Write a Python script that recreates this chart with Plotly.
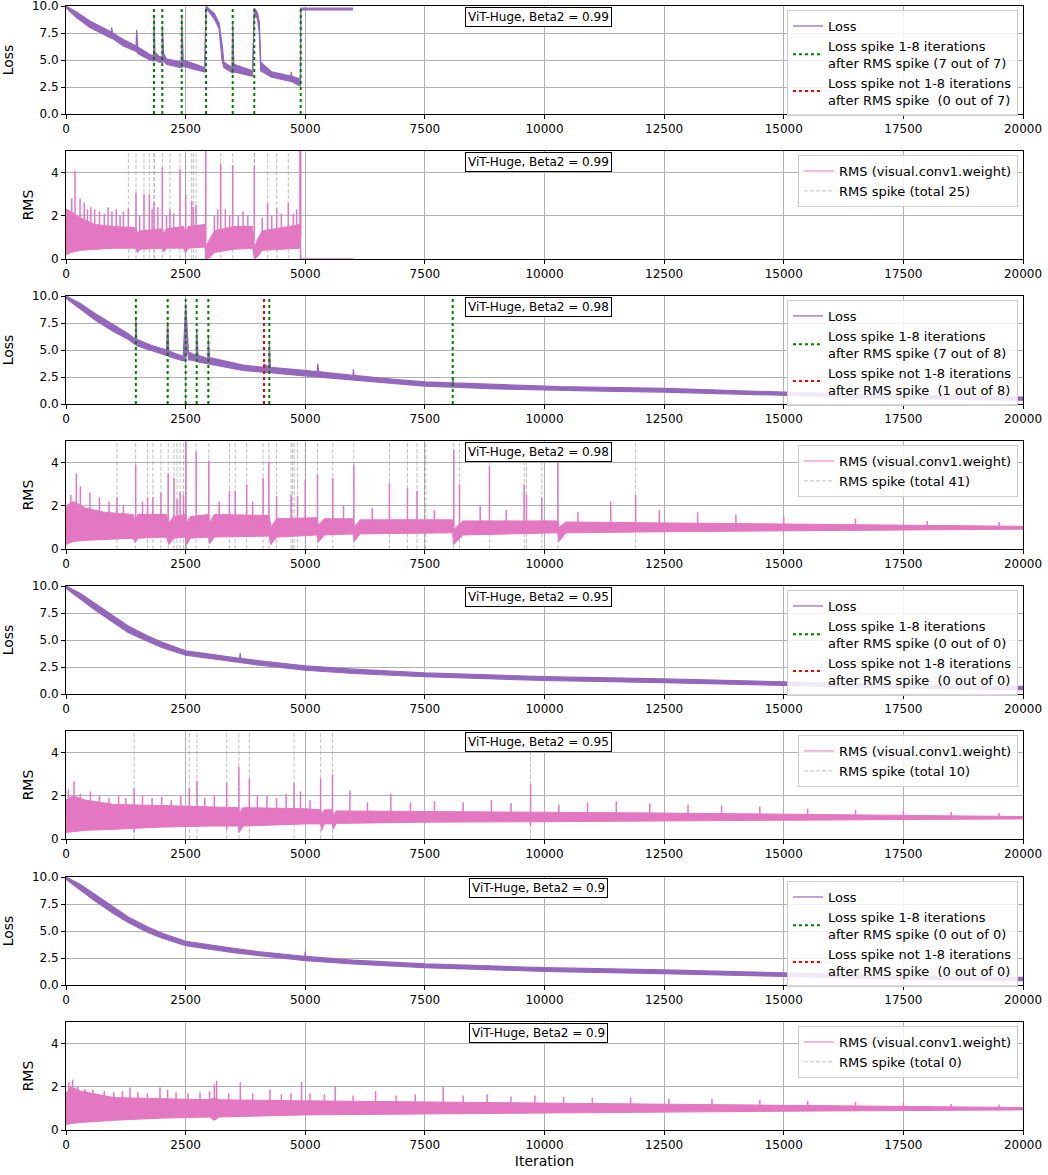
import plotly.graph_objects as go

W, H = 1048, 1175
PURPLE = "#9467bd"
PINK = "#e377c2"
FONT = "DejaVu Sans"

# ---------------- data ----------------
X_TICKS = [0, 2500, 5000, 7500, 10000, 12500, 15000, 17500, 20000]
LOSS_TICKS = [0.0, 2.5, 5.0, 7.5, 10.0]
RMS_TICKS = [0, 2, 4]
BETAS = ["0.99", "0.98", "0.95", "0.9"]

# Loss (iteration, low edge, high edge of the noisy curve)
LOSS99_X = [0, 200, 500, 800, 945, 955, 975, 1200, 1465, 1477, 1500, 1750, 1832, 1839, 1860, 1950,
            2006, 2013, 2040, 2100, 2400, 2412, 2418, 2450, 2900, 2926, 3100, 3200, 3260, 3300, 3470,
            3484, 3510, 3900, 3935, 4000, 4040, 4070, 4300, 4600, 4700, 4710, 4720, 4850, 4900, 4905, 6000]
LOSS99_LO = [9.85, 9.0, 8.0, 7.3, 7.0, 7.0, 7.0, 6.3, 5.8, 5.8, 5.6, 5.0, 4.9, 4.9, 5.0, 4.8,
             4.8, 4.8, 4.9, 4.6, 4.3, 4.3, 4.3, 4.4, 3.9, 9.8, 8.8, 7.9, 5.0, 4.3, 3.8,
             3.8, 3.9, 3.5, 9.3, 8.8, 7.5, 4.0, 3.4, 3.1, 3.0, 3.0, 3.0, 2.7, 2.6, 9.65, 9.65]
LOSS99_HI = [10.0, 9.5, 8.6, 7.9, 7.6, 8.0, 7.5, 6.9, 6.3, 7.8, 6.2, 5.5, 5.4, 8.9, 5.7, 5.3,
             5.3, 8.2, 5.6, 5.1, 4.8, 4.8, 9.2, 5.0, 4.3, 10.0, 9.3, 8.4, 6.5, 4.8, 4.3,
             8.4, 4.6, 4.0, 9.8, 9.4, 8.5, 4.8, 3.9, 3.6, 3.5, 3.9, 3.5, 3.3, 3.2, 9.8, 9.8]

LOSS98_X = [0, 300, 600, 1000, 1300, 1450, 1460, 1480, 1800, 2100, 2125, 2150, 2450, 2501, 2530, 2560,
            2720, 2731, 2760, 2965, 2975, 3000, 3700, 4130, 4138, 4240, 4249, 4270, 4750, 5000, 5250,
            5260, 5280, 5450, 6000, 6005, 6020, 6800, 7500, 8075, 8082, 8100, 9000, 10300, 11200,
            12500, 15000, 17500, 20000]
LOSS98_LO = [9.8, 8.8, 7.8, 6.7, 6.0, 5.5, 5.5, 5.4, 4.9, 4.5, 4.5, 4.4, 4.0, 4.1, 5.5, 4.1,
             4.0, 4.0, 3.9, 3.7, 3.7, 3.7, 3.1, 2.9, 2.9, 2.9, 2.9, 2.9, 2.7, 2.6, 2.5,
             2.5, 2.5, 2.45, 2.2, 2.2, 2.2, 1.9, 1.65, 1.55, 1.55, 1.55, 1.4, 1.25, 1.2,
             1.1, 0.8, 0.5, 0.35]
LOSS98_HI = [10.0, 9.3, 8.4, 7.3, 6.5, 6.0, 7.9, 6.0, 5.4, 5.0, 7.6, 4.9, 4.4, 9.3, 7.5, 4.8,
             4.5, 6.9, 4.5, 4.2, 6.1, 4.3, 3.6, 3.4, 3.7, 3.4, 5.8, 3.4, 3.2, 3.1, 3.0,
             3.75, 3.0, 2.9, 2.65, 3.2, 2.65, 2.3, 2.05, 1.95, 2.5, 1.95, 1.8, 1.6, 1.55,
             1.45, 1.1, 0.8, 0.65]

LOSS95_X = [0, 300, 600, 1000, 1300, 1700, 2000, 2500, 3000, 3500, 3630, 3640, 3650, 4000, 5000,
            6000, 7500, 9000, 10000, 12500, 15000, 17500, 20000]
LOSS95_LO = [9.8, 8.8, 7.8, 6.6, 5.7, 4.9, 4.3, 3.6, 3.3, 2.95, 2.9, 2.9, 2.9, 2.7, 2.2,
             1.9, 1.6, 1.4, 1.25, 1.05, 0.8, 0.55, 0.4]
LOSS95_HI = [10.0, 9.3, 8.4, 7.2, 6.3, 5.4, 4.8, 4.0, 3.7, 3.35, 3.3, 3.8, 3.3, 3.1, 2.6,
             2.3, 1.95, 1.75, 1.6, 1.4, 1.1, 0.85, 0.7]

LOSS90_X = [0, 300, 600, 1000, 1300, 1700, 2000, 2500, 3000, 3500, 4000, 4990, 5000, 5010, 6000,
            7500, 9000, 10000, 12500, 15000, 17500, 20000]
LOSS90_LO = [9.8, 8.8, 7.8, 6.6, 5.8, 4.9, 4.35, 3.65, 3.3, 3.0, 2.75, 2.25, 2.25, 2.25, 1.95,
             1.6, 1.4, 1.25, 1.05, 0.8, 0.55, 0.4]
LOSS90_HI = [10.0, 9.3, 8.4, 7.2, 6.3, 5.4, 4.8, 4.05, 3.7, 3.4, 3.1, 2.65, 3.1, 2.65, 2.3,
             1.95, 1.75, 1.6, 1.4, 1.1, 0.85, 0.7]

# Loss-spike markers (iterations)
GREEN99 = [1839, 2013, 2418, 2926, 3484, 3935, 4905]
RED99 = []
GREEN98 = [1460, 2125, 2501, 2731, 2975, 4249, 8082]
RED98 = [4138]
GREEN95, RED95 = [], []
GREEN90, RED90 = [], []

# RMS band (iteration, low, high)
RMS99_X = [0, 100, 300, 600, 1000, 1450, 1500, 1550, 2000, 2050, 2100, 2450, 2500, 2550, 2900, 2930,
           3000, 3100, 3500, 3900, 3940, 4000, 4100, 4880, 4900, 4905, 6000]
RMS99_LO = [0.2, 0.3, 0.4, 0.45, 0.5, 0.5, 0.3, 0.45, 0.5, 0.35, 0.5, 0.5, 0.3, 0.5, 0.55, 0.0,
            0.05, 0.3, 0.45, 0.5, 0.0, 0.1, 0.4, 0.5, 0.5, 0.0, 0.0]
RMS99_HI = [2.3, 2.2, 1.9, 1.6, 1.5, 1.45, 1.2, 1.3, 1.4, 1.2, 1.4, 1.5, 1.2, 1.5, 1.6, 0.6,
            0.9, 1.3, 1.5, 1.5, 0.5, 0.9, 1.3, 1.6, 1.6, 0.0, 0.0]
RMS99_SPK_X = [120, 188, 293, 380, 450, 520, 600, 700, 800, 880, 960, 1050, 1130, 1200, 1303, 1463,
               1540, 1630, 1742, 1800, 1839, 1920, 2013, 2100, 2173, 2250, 2383, 2501, 2626, 2661,
               2717, 2919, 3100, 3170, 3233, 3330, 3420, 3484, 3600, 3700, 3800, 3935, 4100, 4214,
               4300, 4403, 4500, 4646, 4750, 4820, 4890, 4905]
RMS99_SPK_Y = [2.8, 4.1, 2.8, 2.6, 2.3, 2.4, 2.3, 2.2, 2.1, 2.4, 2.2, 2.3, 2.0, 2.2, 2.35, 3.07,
               2.0, 3.0, 3.0, 2.3, 2.6, 2.4, 4.24, 2.0, 2.3, 2.1, 4.15, 3.0, 2.7, 2.4,
               2.5, 5.0, 2.0, 2.3, 4.4, 2.3, 2.0, 4.35, 2.0, 2.2, 2.0, 4.3, 1.9, 2.6,
               2.0, 2.35, 2.1, 2.6, 2.1, 2.3, 5.0, 5.0]
RMS99_LINES = [1303, 1463, 1630, 1742, 1839, 1848, 2013, 2173, 2383, 2501, 2626, 2661, 2717, 2919,
               2926, 3233, 3484, 3935, 3940, 4214, 4403, 4646, 4890, 4900, 4905]

RMS98_X = [0, 150, 400, 800, 1400, 1450, 1500, 2100, 2150, 2250, 2500, 2520, 2600, 2980, 3000, 3100,
           4250, 4280, 4400, 5250, 5270, 5400, 6000, 6020, 6150, 8080, 8100, 8300, 10280, 10300,
           10450, 12500, 15000, 17500, 20000]
RMS98_LO = [0.2, 0.35, 0.4, 0.45, 0.5, 0.3, 0.5, 0.55, 0.2, 0.5, 0.55, 0.2, 0.5, 0.55, 0.25, 0.55,
            0.6, 0.2, 0.55, 0.65, 0.3, 0.65, 0.7, 0.35, 0.7, 0.75, 0.2, 0.65, 0.75, 0.35,
            0.75, 0.8, 0.85, 0.88, 0.92]
RMS98_HI = [2.0, 2.2, 1.9, 1.7, 1.6, 1.3, 1.6, 1.6, 1.2, 1.5, 1.6, 1.2, 1.5, 1.6, 1.2, 1.6,
            1.55, 1.0, 1.4, 1.45, 1.1, 1.4, 1.4, 1.0, 1.35, 1.35, 0.9, 1.3, 1.3, 1.0,
            1.25, 1.2, 1.15, 1.1, 1.05]
RMS98_SPK_X = [100, 216, 300, 500, 700, 900, 1064, 1200, 1456, 1600, 1704, 1816, 1984, 2136, 2256,
               2320, 2384, 2456, 2504, 2720, 2984, 3200, 3416, 3536, 3776, 3900, 4120, 4240, 4400,
               4704, 4840, 5000, 5256, 5576, 5800, 6016, 6400, 6760, 7136, 7336, 7700, 8104, 8224,
               8656, 8850, 9200, 9576, 9624, 9944, 10280, 10700, 11384, 11904, 12400, 13200, 14000,
               15000, 16500, 18000, 19500]
RMS98_SPK_Y = [2.5, 3.5, 2.9, 2.6, 2.4, 2.2, 2.4, 2.0, 3.9, 2.2, 2.4, 2.4, 2.6, 3.5, 3.3,
               2.3, 2.65, 2.5, 5.0, 4.5, 4.1, 2.2, 2.7, 2.7, 3.0, 2.2, 3.3, 4.05, 2.45,
               2.5, 2.45, 3.2, 3.45, 3.3, 2.0, 3.9, 1.9, 3.05, 2.8, 2.7, 1.8, 4.6, 3.0,
               2.0, 3.85, 1.8, 3.0, 2.5, 2.4, 4.0, 1.7, 2.2, 2.5, 1.8, 1.7, 1.6,
               1.5, 1.4, 1.3, 1.25]
RMS98_LINES = [1064, 1456, 1704, 1816, 1984, 2136, 2256, 2320, 2384, 2456, 2504, 2520, 2720, 2984,
               3416, 3536, 3776, 4120, 4240, 4400, 4704, 4736, 4770, 4840, 5000, 5256, 5576, 6016,
               6760, 7136, 7336, 7496, 7520, 8104, 8224, 8850, 9576, 9624, 9944, 10280, 11904]

RMS95_X = [0, 150, 400, 1000, 2000, 3000, 3600, 3620, 3700, 5000, 5330, 5340, 5400, 5570, 5580, 5650,
           7500, 10000, 12500, 15000, 17500, 20000]
RMS95_LO = [0.3, 0.35, 0.4, 0.45, 0.55, 0.6, 0.6, 0.3, 0.6, 0.7, 0.7, 0.4, 0.7, 0.7, 0.45, 0.72,
            0.78, 0.8, 0.82, 0.87, 0.9, 0.93]
RMS95_HI = [1.8, 2.0, 1.8, 1.6, 1.55, 1.5, 1.45, 1.2, 1.45, 1.4, 1.35, 1.1, 1.35, 1.35, 1.1, 1.3,
            1.28, 1.25, 1.2, 1.15, 1.08, 1.04]
RMS95_SPK_X = [50, 168, 300, 511, 700, 900, 1100, 1250, 1423, 1423, 1600, 1800, 2000, 2200, 2400,
               2577, 2737, 2900, 3100, 3358, 3358, 3613, 3832, 4000, 4200, 4400, 4600, 4766, 4900,
               5100, 5321, 5569, 5934, 6300, 6788, 7200, 7700, 8300, 8890, 9300, 9708, 9708, 10300,
               10900, 11500, 12200, 13000, 13700, 14500, 15500, 16500, 17500, 18500, 19500]
RMS95_SPK_Y = [2.3, 2.67, 2.1, 2.2, 2.0, 1.9, 2.0, 1.9, 2.35, 0.3, 2.0, 1.9, 1.95, 1.8, 2.0,
               2.35, 2.7, 1.9, 2.0, 2.6, 0.45, 3.35, 2.8, 2.0, 2.0, 1.9, 2.1, 2.6, 2.2,
               1.8, 2.8, 3.0, 2.25, 1.7, 2.1, 1.7, 1.75, 1.7, 1.8, 1.65, 2.55, 0.6, 1.6,
               1.7, 1.75, 1.65, 1.6, 1.55, 1.5, 1.4, 1.35, 1.3, 1.25, 1.2]
RMS95_LINES = [1423, 2577, 2737, 3358, 3613, 3832, 4766, 5321, 5569, 9708]

RMS90_X = [0, 100, 300, 1000, 2000, 3000, 3100, 3200, 5000, 7500, 10000, 12500, 15000, 17500, 20000]
RMS90_LO = [0.25, 0.3, 0.35, 0.45, 0.55, 0.6, 0.45, 0.6, 0.7, 0.75, 0.8, 0.83, 0.87, 0.9, 0.93]
RMS90_HI = [1.7, 2.0, 1.8, 1.5, 1.45, 1.4, 1.5, 1.4, 1.35, 1.3, 1.25, 1.2, 1.14, 1.08, 1.04]
RMS90_SPK_X = [60, 139, 250, 400, 560, 800, 1000, 1180, 1337, 1500, 1700, 1964, 2124, 2300, 2550,
               2800, 3000, 3099, 3148, 3400, 3642, 3900, 4262, 4500, 4700, 4923, 5100, 5400, 5627,
               6000, 6470, 6900, 7300, 7883, 8300, 8800, 9300, 9800, 10400, 11000, 11800, 12600,
               13500, 14500, 15500, 16500, 17500, 18500, 19500]
RMS90_SPK_Y = [2.2, 2.33, 2.0, 1.9, 1.85, 1.8, 1.75, 1.8, 1.97, 1.75, 1.7, 1.97, 1.87, 1.75, 1.7,
               1.75, 1.8, 2.1, 2.28, 1.7, 2.2, 1.7, 1.87, 1.65, 1.7, 2.22, 1.7, 1.65, 2.0,
               1.6, 1.8, 1.6, 1.65, 2.0, 1.6, 1.65, 1.55, 1.6, 1.55, 1.5, 1.5, 1.45,
               1.45, 1.4, 1.35, 1.3, 1.25, 1.2, 1.18]
RMS90_LINES = []

# ---------------- layout helpers ----------------
PLOT_L, PLOT_R = 66, 1023
PANEL_TOPS = [6, 151, 296, 441, 586, 731, 877, 1022]
PANEL_H = 108

fig = go.Figure()


def ax_names(r):
    s = "" if r == 1 else str(r)
    return "x" + s, "y" + s, "xaxis" + s, "yaxis" + s, "legend" + s


def vlines(xs, y0, y1):
    vx, vy = [], []
    for v in xs:
        vx += [v, v, None]
        vy += [y0, y1, None]
    if not vx:
        vx, vy = [None], [None]
    return vx, vy


def spikes(xs, ys, base):
    sx, sy = [], []
    for a, b in zip(xs, ys):
        sx += [a, a, None]
        sy += [base, b, None]
    return sx, sy


LOSS_DATA = [(LOSS99_X, LOSS99_LO, LOSS99_HI, GREEN99, RED99),
             (LOSS98_X, LOSS98_LO, LOSS98_HI, GREEN98, RED98),
             (LOSS95_X, LOSS95_LO, LOSS95_HI, GREEN95, RED95),
             (LOSS90_X, LOSS90_LO, LOSS90_HI, GREEN90, RED90)]
RMS_DATA = [(RMS99_X, RMS99_LO, RMS99_HI, RMS99_SPK_X, RMS99_SPK_Y, RMS99_LINES),
            (RMS98_X, RMS98_LO, RMS98_HI, RMS98_SPK_X, RMS98_SPK_Y, RMS98_LINES),
            (RMS95_X, RMS95_LO, RMS95_HI, RMS95_SPK_X, RMS95_SPK_Y, RMS95_LINES),
            (RMS90_X, RMS90_LO, RMS90_HI, RMS90_SPK_X, RMS90_SPK_Y, RMS90_LINES)]

annotations = []
layout_extra = {}

for i, beta in enumerate(BETAS):
    # ---------- loss panel ----------
    r = 2 * i + 1
    xa, ya, xk, yk, lg = ax_names(r)
    X, LO, HI, GR, RD = LOSS_DATA[i]
    n = len(GR) + len(RD)
    fig.add_trace(go.Scatter(x=X, y=LO, mode="lines", line=dict(color=PURPLE, width=1.2),
                             name="Loss", legend=lg, xaxis=xa, yaxis=ya, hoverinfo="skip"))
    fig.add_trace(go.Scatter(x=X, y=HI, mode="lines", line=dict(color=PURPLE, width=1.2),
                             fill="tonexty", fillcolor=PURPLE, showlegend=False,
                             xaxis=xa, yaxis=ya, hoverinfo="skip"))
    gx, gy = vlines(GR, LOSS_TICKS[0], LOSS_TICKS[-1])
    fig.add_trace(go.Scatter(x=gx, y=gy, mode="lines", line=dict(color="green", width=2, dash="dot"),
                             name=f"Loss spike 1-8 iterations<br>after RMS spike ({len(GR)} out of {n})",
                             legend=lg, xaxis=xa, yaxis=ya, hoverinfo="skip"))
    rx, ry = vlines(RD, LOSS_TICKS[0], LOSS_TICKS[-1])
    fig.add_trace(go.Scatter(x=rx, y=ry, mode="lines", line=dict(color="red", width=2, dash="dot"),
                             name=f"Loss spike not 1-8 iterations<br>after RMS spike  ({len(RD)} out of {n})",
                             legend=lg, xaxis=xa, yaxis=ya, hoverinfo="skip"))

    # ---------- rms panel ----------
    r2 = 2 * i + 2
    xa2, ya2, xk2, yk2, lg2 = ax_names(r2)
    X, LO, HI, SX, SY, LINES = RMS_DATA[i]
    lx, ly = vlines(LINES, 0, 5)
    fig.add_trace(go.Scatter(x=lx, y=ly, mode="lines",
                             line=dict(color="rgba(150,150,150,0.6)", width=1, dash="4px,2px"),
                             name=f"RMS spike (total {len(LINES)})", legend=lg2, legendrank=2,
                             xaxis=xa2, yaxis=ya2, hoverinfo="skip"))
    fig.add_trace(go.Scatter(x=X, y=LO, mode="lines", line=dict(color=PINK, width=1),
                             name="RMS (visual.conv1.weight)", legend=lg2, legendrank=1,
                             xaxis=xa2, yaxis=ya2, hoverinfo="skip"))
    fig.add_trace(go.Scatter(x=X, y=HI, mode="lines", line=dict(color=PINK, width=1),
                             fill="tonexty", fillcolor=PINK, showlegend=False,
                             xaxis=xa2, yaxis=ya2, hoverinfo="skip"))
    sx, sy = spikes(SX, SY, 1.0)
    fig.add_trace(go.Scatter(x=sx, y=sy, mode="lines", line=dict(color=PINK, width=1.5),
                             showlegend=False, xaxis=xa2, yaxis=ya2, hoverinfo="skip"))

# axes & legends
for r in range(1, 9):
    xa, ya, xk, yk, lg = ax_names(r)
    top = PANEL_TOPS[r - 1]
    bot = top + PANEL_H
    is_loss = (r % 2 == 1)
    layout_extra[xk] = dict(domain=[PLOT_L / W, PLOT_R / W], anchor=ya, range=[0, 20000],
                            tickvals=X_TICKS, ticktext=[str(t) for t in X_TICKS],
                            showline=True, mirror=True, linecolor="black", linewidth=1,
                            ticks="outside", ticklen=4, tickcolor="black",
                            showgrid=True, gridcolor="#b0b0b0", gridwidth=1, zeroline=False,
                            automargin=False, ticklabeloverflow="allow",
                            tickfont=dict(family=FONT, size=12, color="black"))
    if r == 8:
        layout_extra[xk]["title"] = dict(text="Iteration", font=dict(family=FONT, size=14, color="black"),
                                         standoff=4)
    if is_loss:
        tv, tt, rng, title = LOSS_TICKS, [f"{t:.1f}" for t in LOSS_TICKS], [0, 10], "Loss"
    else:
        tv, tt, rng, title = RMS_TICKS, [str(t) for t in RMS_TICKS], [0, 5], "RMS"
    layout_extra[yk] = dict(domain=[1 - bot / H, 1 - top / H], anchor=xa, range=rng,
                            tickvals=tv, ticktext=tt,
                            showline=True, mirror=True, linecolor="black", linewidth=1,
                            ticks="outside", ticklen=4, tickcolor="black",
                            showgrid=True, gridcolor="#b0b0b0", gridwidth=1, zeroline=False,
                            automargin=False, ticklabeloverflow="allow",
                            tickfont=dict(family=FONT, size=12, color="black"),
                            title=dict(text=title, font=dict(family=FONT, size=14, color="black"),
                                       standoff=14))
    layout_extra[lg] = dict(x=1018 / W, y=1 - (top + 4) / H, xanchor="right", yanchor="top",
                            bgcolor="rgba(255,255,255,0.85)", bordercolor="#cccccc", borderwidth=1,
                            font=dict(family=FONT, size=13, color="black"), tracegroupgap=0,
                            traceorder="normal")
    beta = BETAS[(r - 1) // 2]
    annotations.append(dict(text=f"ViT-Huge, Beta2 = {beta}", xref="paper", yref="paper",
                            x=538 / W, y=1 - (top + 1) / H, xanchor="center", yanchor="top",
                            showarrow=False, bgcolor="white", bordercolor="black", borderwidth=1,
                            borderpad=2, font=dict(family=FONT, size=12, color="black")))

fig.update_layout(width=W, height=H, margin=dict(l=0, r=0, t=0, b=0, autoexpand=False),
                  paper_bgcolor="white", plot_bgcolor="white",
                  font=dict(family=FONT, color="black"),
                  annotations=annotations, **layout_extra)

fig.write_html("out.html", config={"displayModeBar": False},
               post_script="document.body.style.margin='0';document.body.style.overflow='hidden';")
